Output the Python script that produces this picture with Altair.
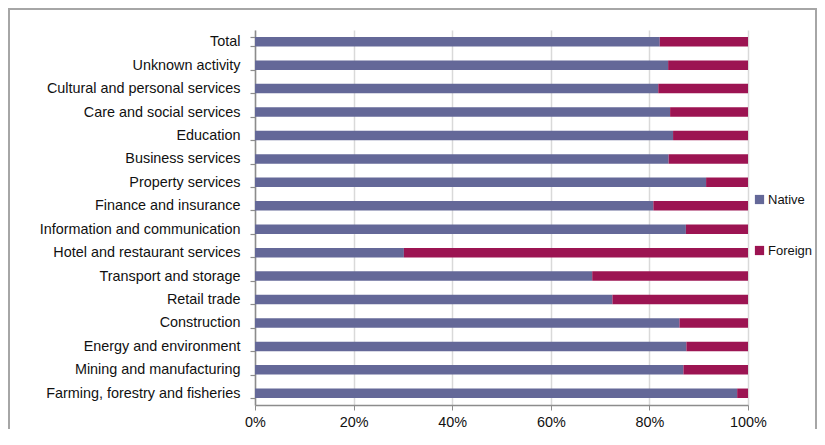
import altair as alt
import pandas as pd

categories = [
    "Total",
    "Unknown activity",
    "Cultural and personal services",
    "Care and social services",
    "Education",
    "Business services",
    "Property services",
    "Finance and insurance",
    "Information and communication",
    "Hotel and restaurant services",
    "Transport and storage",
    "Retail trade",
    "Construction",
    "Energy and environment",
    "Mining and manufacturing",
    "Farming, forestry and fisheries",
]
native = [82.1, 83.8, 81.8, 84.2, 84.8, 83.9, 91.5, 80.8,
          87.4, 30.2, 68.4, 72.5, 86.1, 87.5, 86.9, 97.8]
foreign = [17.9, 16.2, 18.2, 15.8, 15.2, 16.1, 8.5, 19.2,
           12.6, 69.8, 31.6, 27.5, 13.9, 12.5, 13.1, 2.2]
series = ["Native", "Foreign"]
colors = ["#646898", "#9c1452"]

rows = []
for c, n, f in zip(categories, native, foreign):
    rows.append({"sector": c, "group": "Native", "share": n, "ord": 0})
    rows.append({"sector": c, "group": "Foreign", "share": f, "ord": 1})
df = pd.DataFrame(rows)

W, H = 493, 375
PL, PT, PR, PB = 247, 22, 69, 24

bars = alt.Chart(df).mark_bar(size=9.5).encode(
    y=alt.Y("sector:N", sort=categories, title=None,
            scale=alt.Scale(paddingInner=0.6, paddingOuter=0.3),
            axis=alt.Axis(tickBand="extent", labelFontSize=14.4, labelColor="#111111",
                          labelFont="Liberation Sans", labelPadding=10, tickSize=5,
                          tickColor="#8c8c8c", domainColor="#8c8c8c", domainWidth=1.5,
                          tickWidth=1.2, grid=False, labelLimit=400)),
    x=alt.X("share:Q", stack="normalize", title=None,
            scale=alt.Scale(domain=[0, 1], nice=False),
            axis=alt.Axis(format=".0%", values=[0, 0.2, 0.4, 0.6, 0.8, 1.0],
                          labelFontSize=14.4, labelColor="#111111", labelFlush=False,
                          labelFont="Liberation Sans", labelPadding=5, tickSize=5,
                          tickColor="#8c8c8c", domainColor="#8c8c8c", domainWidth=1.5,
                          grid=True, gridColor="#d9d9d9", gridWidth=1.5)),
    color=alt.Color("group:N", sort=series,
                    scale=alt.Scale(domain=series, range=colors),
                    legend=alt.Legend(title=None, orient="none", legendX=498, legendY=163,
                                      symbolType="square", symbolSize=85,
                                      symbolStrokeWidth=0, labelFontSize=13,
                                      labelFont="Liberation Sans", labelColor="#111111",
                                      rowPadding=37, padding=0, labelOffset=2)),
    order=alt.Order("ord:Q"),
)

frame = alt.Chart(alt.Data(values=[{}])).mark_rect(
    fill="transparent", stroke="#a6a6a6", strokeWidth=2
).encode(
    x=alt.value(-PL + 1),
    x2=alt.value(W + PR - 1),
    y=alt.value(-PT + 1),
    y2=alt.value(H + PB + 10),
)

chart = alt.layer(frame, bars).properties(
    width=W, height=H,
    autosize=alt.AutoSizeParams(type="none"),
    padding={"left": PL, "top": PT, "right": PR, "bottom": PB},
).configure_view(strokeWidth=0)

chart.save("out.html", embed_options={"renderer": "svg", "actions": False})
